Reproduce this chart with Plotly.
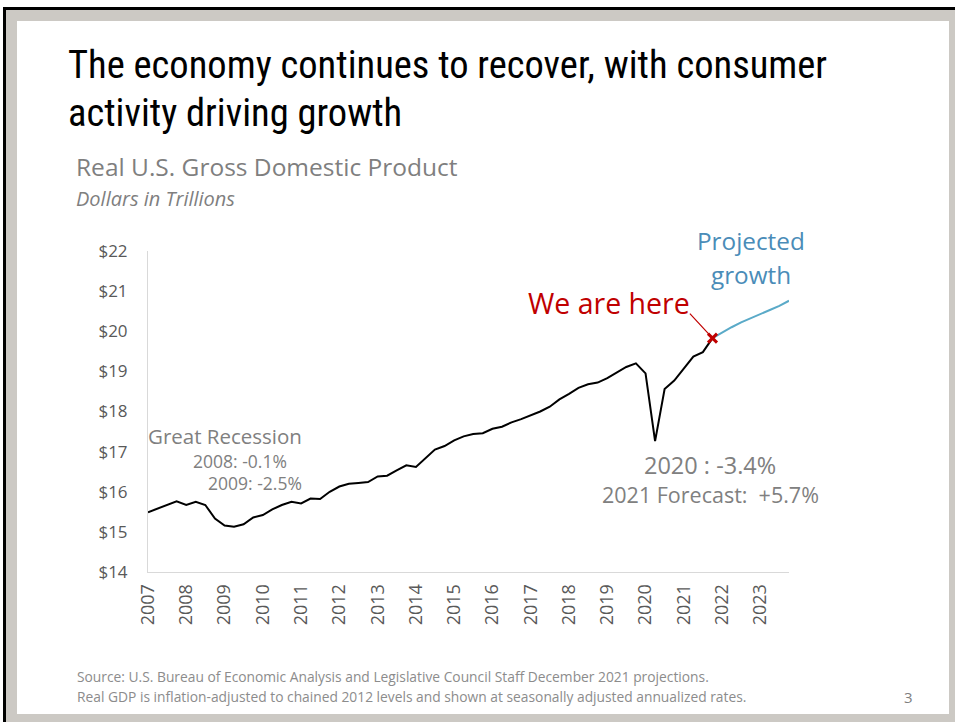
import plotly.graph_objects as go
import pandas as pd

# ---------------- data ----------------
hist_quarters = pd.date_range("2007-01-01", periods=60, freq="QS").strftime("%Y-%m-%d").tolist()
hist_gdp = [
    15.49, 15.58, 15.67, 15.76,   # 2007
    15.67, 15.75, 15.67, 15.33,   # 2008
    15.16, 15.13, 15.19, 15.36,   # 2009
    15.42, 15.56, 15.67, 15.75,   # 2010
    15.71, 15.83, 15.82, 16.00,   # 2011
    16.13, 16.20, 16.22, 16.24,   # 2012
    16.38, 16.40, 16.53, 16.66,   # 2013
    16.62, 16.84, 17.05, 17.14,   # 2014
    17.28, 17.38, 17.44, 17.46,   # 2015
    17.57, 17.62, 17.73, 17.81,   # 2016
    17.90, 18.00, 18.12, 18.30,   # 2017
    18.44, 18.59, 18.68, 18.72,   # 2018
    18.83, 18.98, 19.11, 19.20,   # 2019
    18.95, 17.26, 18.56, 18.77,   # 2020
    19.06, 19.37, 19.48, 19.83,   # 2021
]
proj_quarters = pd.date_range("2021-10-01", periods=9, freq="QS").strftime("%Y-%m-%d").tolist()
proj_gdp = [19.83, 19.97, 20.10, 20.22, 20.33, 20.43, 20.53, 20.63, 20.76]

here_quarter = ["2021-10-01"]
here_gdp = [19.83]

y_ticks = [14, 15, 16, 17, 18, 19, 20, 21, 22]
y_tick_labels = ["$" + str(v) for v in y_ticks]

title_lines = ["The economy continues to recover, with consumer", "activity driving growth"]
chart_title = "Real U.S. Gross Domestic Product"
chart_subtitle = "Dollars in Trillions"
source_lines = [
    "Source: U.S. Bureau of Economic Analysis and Legislative Council Staff December 2021 projections.",
    "Real GDP is inflation-adjusted to chained 2012 levels and shown at seasonally adjusted annualized rates.",
]

# ---------------- layout geometry ----------------
W, H = 955, 722
L, R, T, B = 148, 166, 251, 150
PW, PH = W - L - R, H - T - B


def px(x):
    return (x - L) / PW


def py(y):
    return (H - B - y) / PH


FONT = "'Open Sans', Lato, sans-serif"
TITLE_FONT = "'Liberation Sans Narrow', 'Roboto Condensed', 'DejaVu Sans Condensed', sans-serif"
GRAY = "#808080"

fig = go.Figure()
fig.add_trace(go.Scatter(x=hist_quarters, y=hist_gdp, mode="lines",
                         line=dict(color="#000000", width=2), hoverinfo="skip"))
fig.add_trace(go.Scatter(x=proj_quarters, y=proj_gdp, mode="lines",
                         line=dict(color="#5aaac8", width=2), hoverinfo="skip"))
fig.add_trace(go.Scatter(x=here_quarter, y=here_gdp, mode="markers",
                         marker=dict(symbol="x-thin", size=9, color="#c00000",
                                     line=dict(color="#c00000", width=3)),
                         hoverinfo="skip"))

ann = []


def text(x, y, s, size, color=GRAY, anchor="left", family=FONT):
    ann.append(dict(xref="paper", yref="paper", x=px(x), y=py(y), text=s,
                    showarrow=False, xanchor=anchor, yanchor="middle",
                    font=dict(family=family, size=size, color=color)))


text(66, 65, title_lines[0], 38.5, "#000000", family=TITLE_FONT)
text(66, 112, title_lines[1], 38.5, "#000000", family=TITLE_FONT)
text(74, 166, chart_title, 24.5, "#7f7f7f")
text(74, 198, "<i>" + chart_subtitle + "</i>", 20, "#7f7f7f")
text(146, 436, "Great Recession", 20.5, GRAY)
text(191, 461, "2008: -0.1%", 17.5, GRAY)
text(206, 483, "2009: -2.5%", 17.5, GRAY)
text(692, 303, "We are here", 28.5, "#c00000", anchor="right")
text(751, 240, "Projected", 24.3, "#4a8cb8", anchor="center")
text(751, 274, "growth", 24.3, "#4a8cb8", anchor="center")
text(778, 465, "2020 : -3.4%", 23.5, GRAY, anchor="right")
text(821, 494, "2021 Forecast:  +5.7%", 21.5, GRAY, anchor="right")
text(75, 676, source_lines[0], 13.8, "#8c8c8c")
text(75, 696, source_lines[1], 13.8, "#8c8c8c")
text(908, 697, "3", 15, "#7f7f7f", anchor="center")

# arrow from "We are here" to the marker
ann.append(dict(x=here_quarter[0], y=here_gdp[0], xref="x", yref="y", text="",
                showarrow=True, arrowhead=0, arrowwidth=1.2, arrowcolor="#c00000",
                ax=-24, ay=-26, standoff=4))

# slide frame
shapes = []


def rect(x0, y0, x1, y1, color):
    shapes.append(dict(type="rect", xref="paper", yref="paper",
                       x0=px(x0), x1=px(x1), y0=py(y1), y1=py(y0),
                       fillcolor=color, line=dict(width=0), layer="above"))


FR = "#ccc9c4"
rect(6, 10, 955, 21, FR)
rect(6, 10, 17, 722, FR)
rect(949, 10, 955, 722, FR)
rect(6, 714, 955, 722, FR)
rect(4, 7, 955, 10, "#000000")
rect(3, 7, 6, 722, "#000000")

fig.update_layout(
    width=W, height=H,
    margin=dict(l=L, r=R, t=T, b=B),
    paper_bgcolor="white", plot_bgcolor="white",
    showlegend=False,
    annotations=ann, shapes=shapes,
    xaxis=dict(type="date", range=["2007-01-01", "2023-10-01"],
               tickformat="%Y", dtick="M12", tick0="2007-01-01",
               tickangle=-90, showgrid=False, zeroline=False,
               showline=True, linecolor="#d9d9d9", linewidth=1,
               ticks="outside", ticklen=4, tickcolor="rgba(0,0,0,0)",
               tickfont=dict(family=FONT, size=18, color="#595959")),
    yaxis=dict(range=[14, 22], tickvals=y_ticks, ticktext=y_tick_labels,
               showgrid=False, zeroline=False,
               showline=True, linecolor="#d9d9d9", linewidth=1,
               ticks="outside", ticklen=16, tickcolor="rgba(0,0,0,0)",
               tickfont=dict(family=FONT, size=17, color="#595959")),
)

fig.write_html("out.html")
